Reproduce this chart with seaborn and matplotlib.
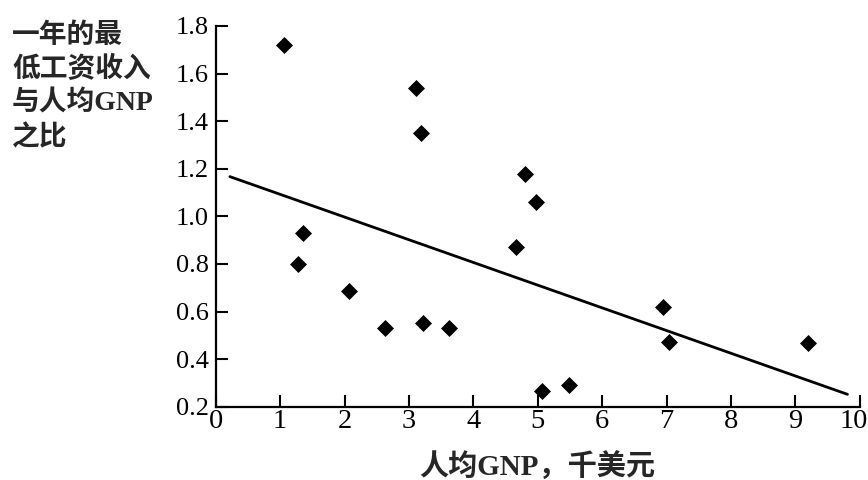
import matplotlib
matplotlib.use("Agg")
import matplotlib.pyplot as plt
import matplotlib.transforms as mtransforms
import seaborn as sns
import pandas as pd

# Data
gnp = [1.06, 1.35, 1.28, 2.07, 2.63, 3.22, 3.63, 3.11, 3.19, 4.80, 4.98, 4.67,
       5.07, 5.49, 6.94, 7.04, 9.19]
ratio = [1.72, 0.93, 0.80, 0.685, 0.53, 0.55, 0.53, 1.54, 1.35, 1.18, 1.06, 0.87,
         0.267, 0.29, 0.62, 0.472, 0.468]
trend_x = [0.22, 9.81]
trend_y = [1.167, 0.252]
xticks = list(range(0, 11))
yticks = [0.2, 0.4, 0.6, 0.8, 1.0, 1.2, 1.4, 1.6, 1.8]
ylabel_text = "一年的最\n低工资收入\n与人均GNP\n之比"
xlabel_text = "人均GNP，千美元"

sns.set_style("ticks")
plt.rcParams['font.family'] = ['Liberation Serif', 'Noto Sans CJK SC', 'DejaVu Sans']

df = pd.DataFrame({"gnp": gnp, "ratio": ratio})
line_df = pd.DataFrame({"x": trend_x, "y": trend_y})

fig = plt.figure(figsize=(8.68, 4.8), dpi=100)
ax = fig.add_axes([215.7 / 868, 1 - 406.7 / 480, (859.7 - 215.7) / 868, (406.7 - 26) / 480])

sns.lineplot(data=line_df, x="x", y="y", color="black", linewidth=2.0, ax=ax)
sns.scatterplot(data=df, x="gnp", y="ratio", marker="D", color="black", s=75,
                edgecolor="black", linewidth=0, ax=ax, zorder=3)

ax.set_xlim(0, 10)
ax.set_ylim(0.2, 1.8)
ax.set_xticks(xticks)
ax.set_xticklabels([str(t) for t in xticks])
ax.set_yticks(yticks)
ax.set_yticklabels([f"{t:.1f}" for t in yticks])
ax.tick_params(axis="both", direction="in", length=8.5, width=1.5, colors="black")
ax.tick_params(axis="y", pad=5, labelsize=19)
ax.tick_params(axis="x", pad=2, labelsize=20.5)
for s in ["top", "right"]:
    ax.spines[s].set_visible(False)
for s in ["left", "bottom"]:
    ax.spines[s].set_linewidth(1.6)
    ax.spines[s].set_color("black")

# nudge the last x tick label slightly left so it stays inside the canvas
last = ax.get_xticklabels()[-1]
last.set_transform(last.get_transform() + mtransforms.ScaledTranslation(-6 / 100, 0, fig.dpi_scale_trans))

ax.set_ylabel("")
ax.set_xlabel(xlabel_text, fontsize=21, labelpad=13, fontweight="bold")

fig.text(12 / 868, 1 - 23 / 480, ylabel_text, ha="left", va="top", fontsize=20,
         fontweight="bold", linespacing=1.37)

fig.savefig("out.png", dpi=100)
